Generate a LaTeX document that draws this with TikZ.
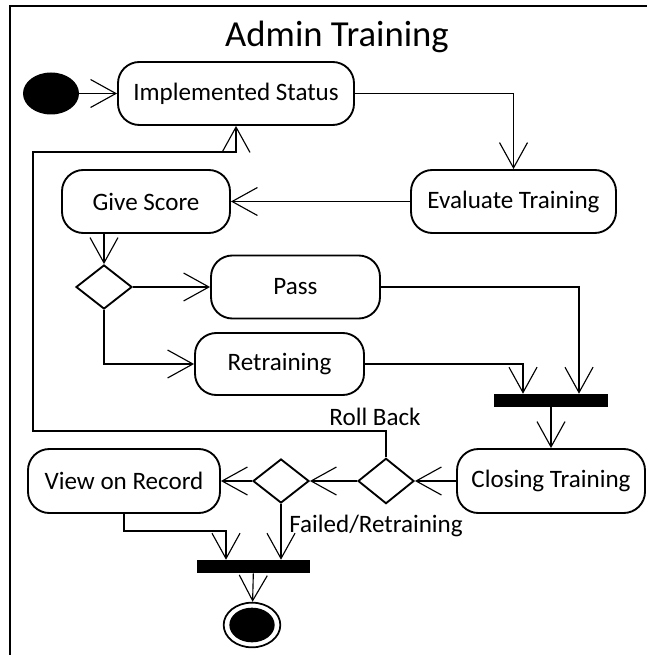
\documentclass[tikz,border=0pt]{standalone}
\usepackage{fontspec}
\setmainfont{Carlito}
\usetikzlibrary{shapes.geometric,arrows.meta,calc}
\begin{document}
\begin{tikzpicture}[x=0.75pt,y=-0.75pt,
  act/.style={draw, line width=1.4pt, rounded corners=16pt, minimum height=47.25pt,
              inner sep=0pt, font=\fontsize{18.8}{20}\selectfont},
  dec/.style={draw, diamond, line width=1.4pt, inner sep=0pt,
              minimum width=42pt, minimum height=33pt},
  syncbar/.style={fill=black, inner sep=0pt, minimum height=9.75pt, minimum width=85pt},
  flow/.style={line width=0.85pt, -{Straight Barb[length=19pt,width=21pt]}},
  lbl/.style={font=\fontsize{18.8}{20}\selectfont, inner sep=0pt}
]
\useasboundingbox (0,0) rectangle (647,655);

% frame of the activity
\draw[line width=1.6pt] (10,655) -- (10,6) -- (647,6);
\node[lbl, font=\fontsize{27.5}{30}\selectfont, anchor=base] (title) at (337,47) {Admin Training};

% activities, decisions and bars
\node[ellipse, fill=black, minimum width=42pt, minimum height=31.5pt, inner sep=0pt] (init) at (51,93.5) {};
\node[act, minimum width=177pt] (IS) at (236,93.5) {Implemented Status};
\node[act, minimum width=153.75pt] (EV) at (513.5,201.5) {Evaluate Training};
\node[act, minimum width=126pt] (GS) at (146,201.5) {Give Score};
\node[dec] (D1) at (104,287) {};
\node[act, minimum width=126.75pt] (PS) at (295.5,287) {Pass};
\node[act, minimum width=126.75pt, minimum height=46.5pt] (RT) at (279.5,364) {Retraining};
\node[syncbar] (B1) at (551,400.5) {};
\node[act, minimum width=141pt, minimum height=48pt] (CT) at (551,481) {Closing Training};
\node[dec, minimum height=34pt] (D3) at (386,481) {};
\node[dec] (D2) at (281,481) {};
\node[act, minimum width=144pt, minimum height=48pt] (VR) at (124,481) {View on Record};
\node[syncbar, minimum width=84.75pt] (B2) at (253.5,566.5) {};
\node[ellipse, draw, line width=1.3pt, minimum width=42.5pt, minimum height=33.5pt, inner sep=0pt] (fin) at (252,625) {};
\node[ellipse, fill=black, minimum width=34pt, minimum height=26pt, inner sep=0pt] (finc) at (fin) {};

% guard labels
\node[lbl] (rb) at (375,417) {Roll Back};
\node[lbl, anchor=west] (fr) at (289,526) {Failed/Retraining};

% helper points for the routed flows
\coordinate (rbA) at (33,431);
\coordinate (rbB) at (33,152);
\coordinate (vrA) at (226,531);

% flows
\draw[flow] (init) -- (IS);
\draw[flow] (IS.east) -| (EV.north);
\draw[flow] (EV) -- (GS);
\draw[flow] (GS.south -| D1.north) -- (D1.north);
\draw[flow] (D1) -- (PS);
\draw[flow] (D1.south) |- (RT.west);
\draw[flow] (PS.east) -| ($(B1.north)+(28,0)$);
\draw[flow] (RT.east) -| ($(B1.north)+(-28,0)$);
\draw[flow] (B1) -- (CT);
\draw[flow] (CT) -- (D3);
\draw[flow] (D3) -- (D2);
\draw[flow] (D2) -- (VR);
\draw[flow] (D3.north) |- (rbA) -- (rbB) -| (IS.south);
\draw[flow] (VR.south) |- (vrA) -- (vrA |- B2.north);
\draw[flow] (D2.south) -- (D2.south |- B2.north);
\draw[flow] (B2) -- (fin);
\end{tikzpicture}
\end{document}
